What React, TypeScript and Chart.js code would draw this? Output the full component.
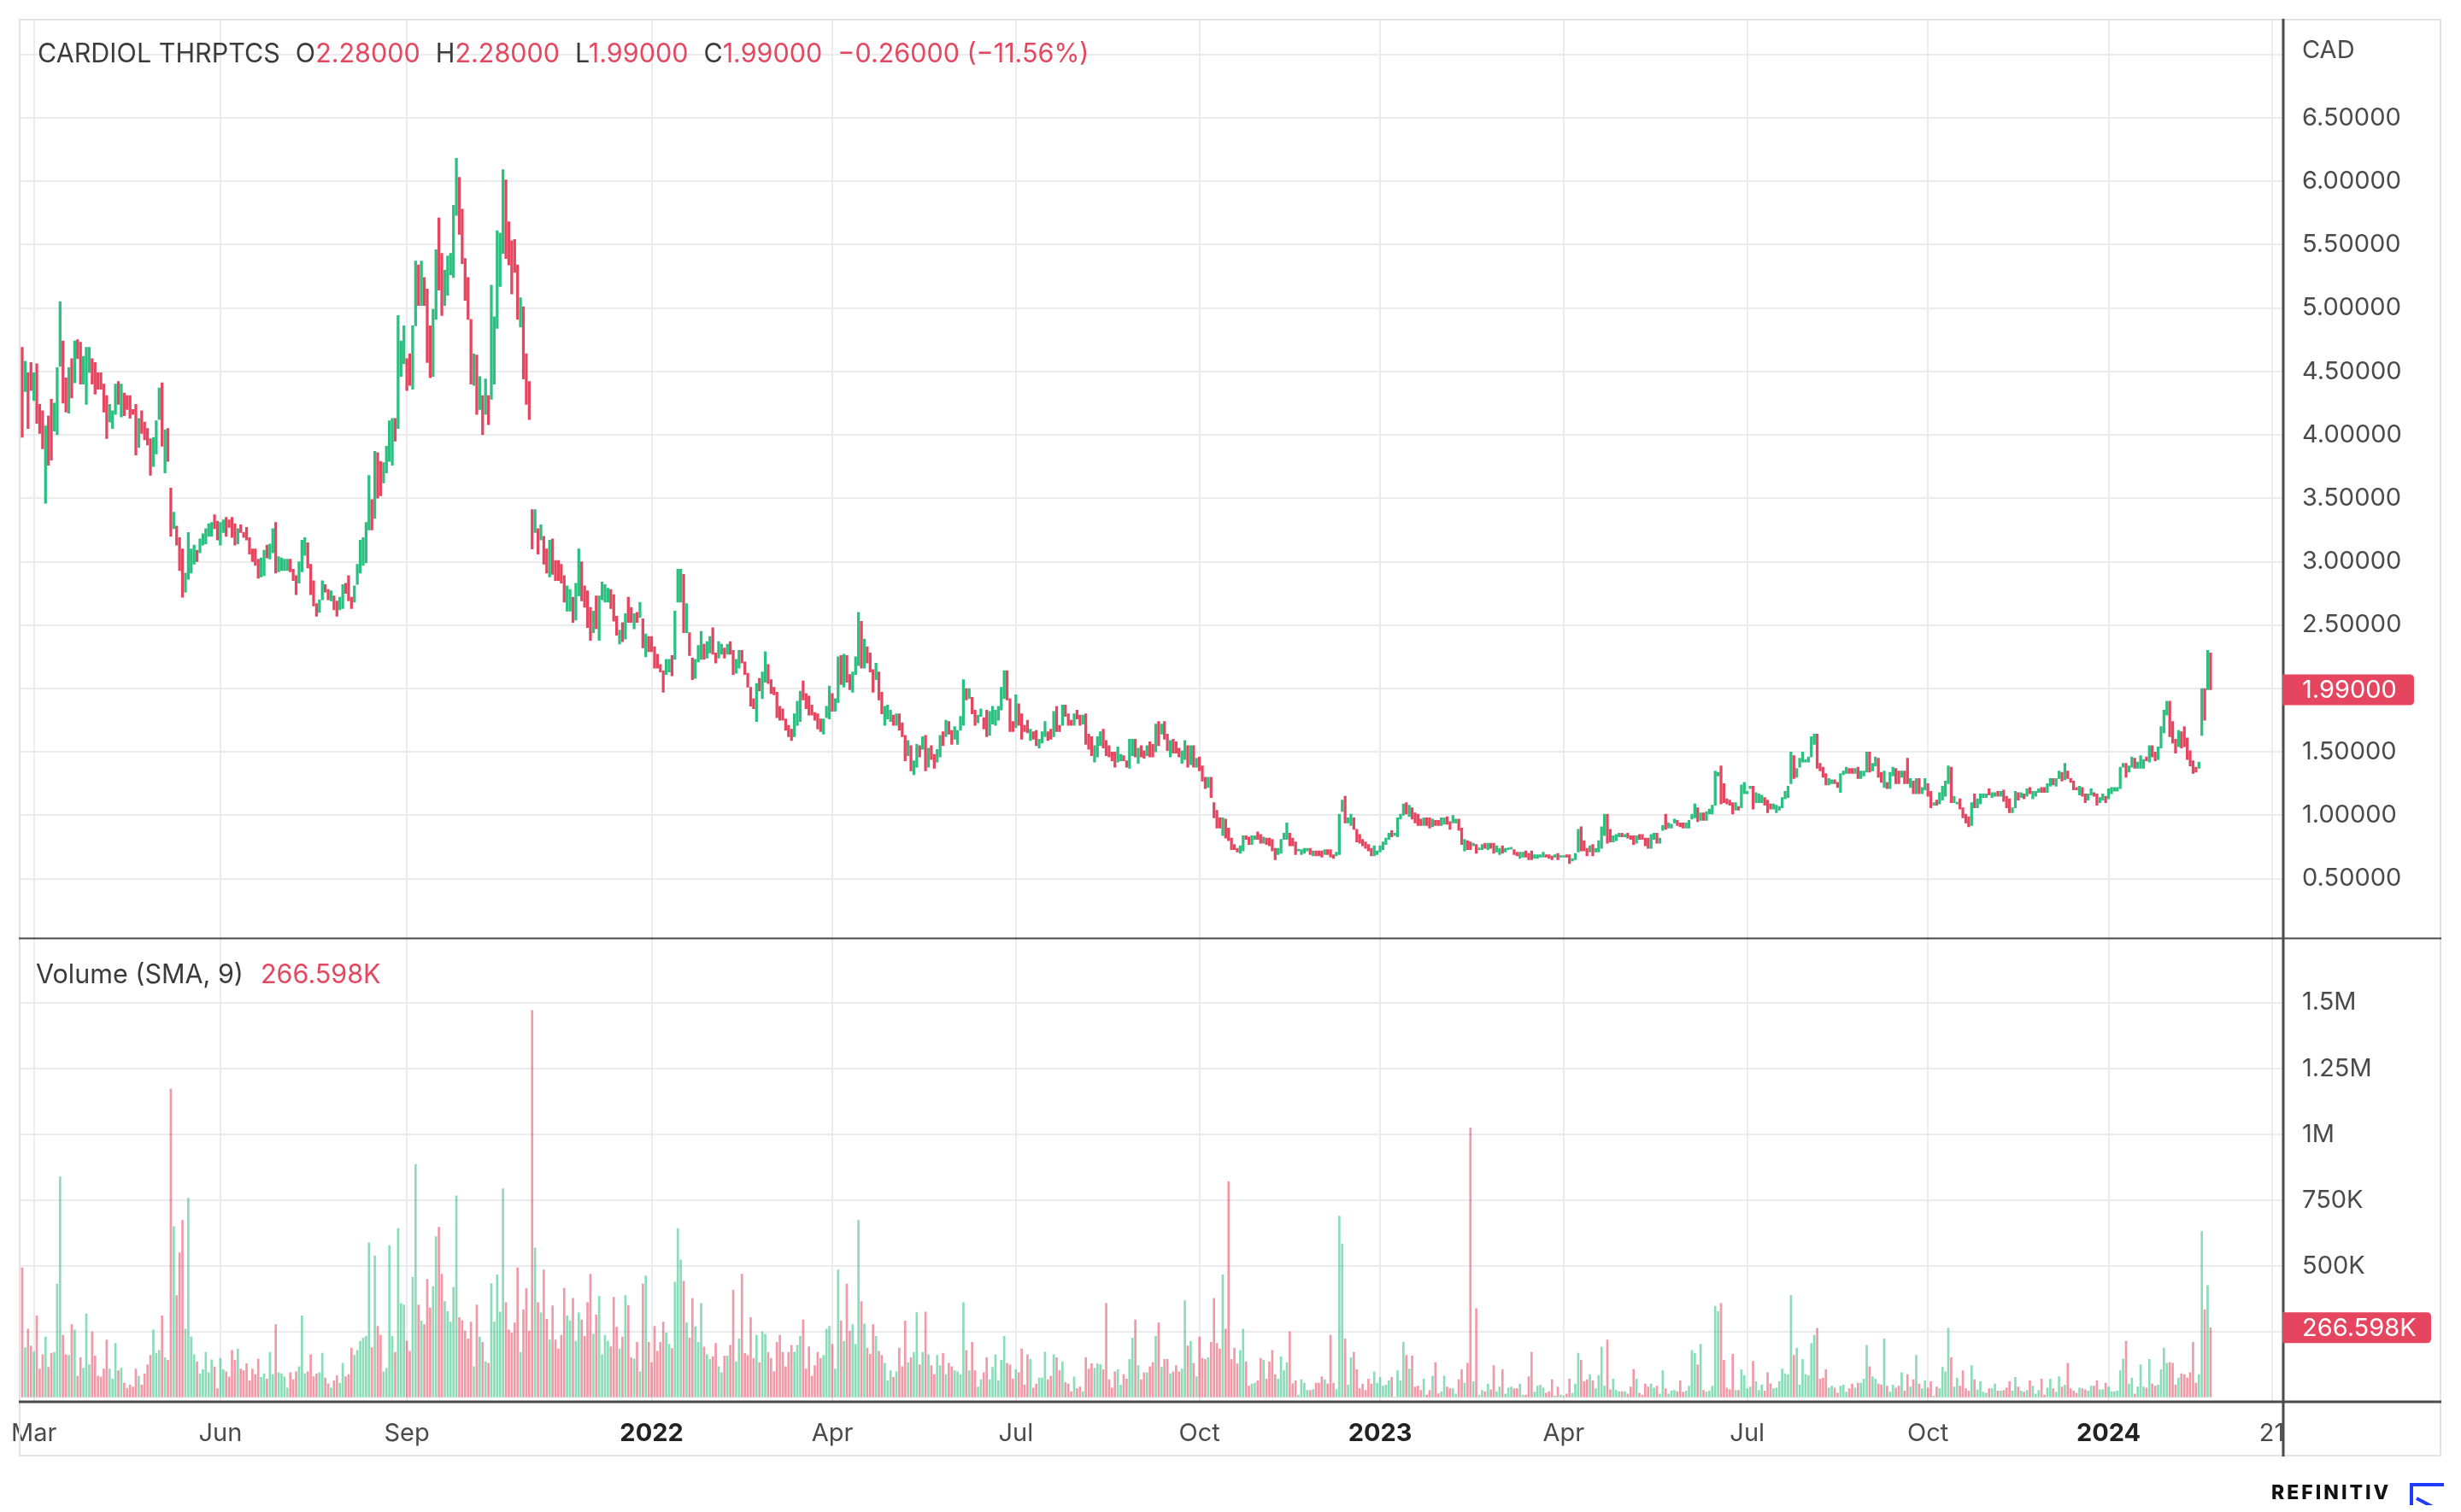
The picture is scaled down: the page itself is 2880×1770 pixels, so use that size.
import React, { useEffect, useRef } from 'react';
import { Chart, registerables } from 'chart.js';

Chart.register(...registerables);

// ---------- data (daily bars, index 0 = first visible bar, Feb 2021 .. Feb 2024) ----------
const opens = [
  4.69,4.34,4.49,4.57,4.27,4.56,4.24,4.19,3.46,4.15,
  4.28,4.03,4.00,4.54,4.74,4.45,4.17,4.60,4.41,4.75,
  4.73,4.40,4.24,4.49,4.60,4.57,4.49,4.49,4.40,4.31,
  4.10,4.05,4.16,4.42,4.14,4.33,4.31,4.31,4.20,4.24,
  3.90,4.19,4.10,4.05,3.97,3.75,3.85,4.12,4.41,3.70,
  4.05,3.58,3.26,3.28,3.19,3.10,2.76,2.86,2.91,2.98,
  3.09,3.07,3.13,3.14,3.20,3.20,3.37,3.32,3.13,3.23,
  3.35,3.33,3.35,3.30,3.14,3.29,3.23,3.27,3.19,3.10,
  3.10,3.02,2.88,2.89,3.13,3.02,3.07,3.31,2.92,2.93,
  2.93,2.93,3.02,2.94,2.89,2.83,2.92,3.05,3.15,2.98,
  2.85,2.67,2.60,2.70,2.82,2.78,2.69,2.73,2.69,2.62,
  2.63,2.83,2.89,2.72,2.68,2.82,2.91,2.97,2.99,3.25,
  3.49,3.34,3.86,3.79,3.62,3.70,3.79,3.76,4.13,4.05,
  4.46,4.56,4.60,4.64,4.36,4.86,5.34,5.02,5.24,5.15,
  4.86,4.46,4.91,5.71,5.43,5.02,5.10,5.26,5.24,5.73,
  6.03,5.78,5.39,5.24,4.91,4.39,4.63,4.20,4.31,4.16,
  4.31,4.28,4.40,4.84,5.17,5.43,6.01,5.68,5.53,5.54,
  5.34,4.85,5.01,4.64,4.42,3.41,3.23,3.26,3.17,3.20,
  3.10,2.88,3.18,3.01,3.01,2.98,2.89,2.61,2.61,2.72,
  2.54,2.73,3.00,2.81,2.77,2.64,2.44,2.73,2.38,2.70,
  2.68,2.68,2.78,2.74,2.57,2.35,2.52,2.39,2.72,2.64,
  2.47,2.60,2.56,2.55,2.25,2.41,2.41,2.33,2.27,2.19,
  2.14,2.11,2.13,2.26,2.23,2.68,2.68,2.90,2.44,2.44,
  2.24,2.08,2.21,2.23,2.35,2.24,2.28,2.48,2.28,2.24,
  2.27,2.32,2.27,2.37,2.30,2.12,2.16,2.30,2.21,2.12,
  2.01,1.92,1.74,2.08,1.92,2.05,2.19,2.07,2.01,1.97,
  1.86,1.84,1.76,1.71,1.68,1.62,1.71,1.74,2.06,1.96,
  1.94,1.87,1.81,1.80,1.76,1.64,1.77,1.76,1.96,1.82,
  1.89,2.26,2.01,2.26,2.11,1.97,2.11,2.18,2.53,2.16,
  2.33,2.28,2.15,2.07,2.13,1.97,1.71,1.76,1.74,1.79,
  1.71,1.80,1.73,1.63,1.47,1.55,1.32,1.38,1.55,1.52,
  1.63,1.38,1.55,1.48,1.42,1.46,1.66,1.62,1.74,1.67,
  1.60,1.56,1.67,1.71,2.00,1.92,1.93,1.83,1.73,1.78,
  1.77,1.83,1.63,1.72,1.71,1.75,1.83,1.92,2.14,1.92,
  1.74,1.69,1.88,1.80,1.71,1.75,1.59,1.66,1.67,1.53,
  1.57,1.62,1.66,1.68,1.62,1.86,1.71,1.71,1.87,1.80,
  1.75,1.71,1.83,1.79,1.72,1.80,1.64,1.62,1.42,1.46,
  1.55,1.68,1.59,1.55,1.50,1.50,1.42,1.43,1.47,1.43,
  1.37,1.47,1.60,1.41,1.55,1.51,1.47,1.58,1.56,1.50,
  1.74,1.64,1.74,1.64,1.46,1.60,1.58,1.53,1.41,1.44,
  1.55,1.40,1.55,1.38,1.46,1.39,1.30,1.22,1.30,1.10,
  1.04,0.98,0.84,0.97,0.90,0.82,0.77,0.74,0.70,0.72,
  0.84,0.83,0.77,0.81,0.87,0.85,0.78,0.82,0.82,0.81,
  0.74,0.69,0.70,0.81,0.81,0.86,0.82,0.79,0.72,0.69,
  0.70,0.72,0.74,0.68,0.72,0.72,0.72,0.69,0.73,0.73,
  0.69,0.68,0.69,1.03,1.15,0.94,0.92,0.98,0.89,0.85,
  0.81,0.79,0.77,0.74,0.68,0.69,0.71,0.73,0.77,0.81,
  0.88,0.84,0.83,0.97,1.00,1.10,0.99,1.06,1.02,1.01,
  0.97,0.92,0.98,0.98,0.91,0.96,0.96,0.92,0.93,0.99,
  0.95,0.94,0.94,0.97,0.90,0.72,0.80,0.79,0.76,0.77,
  0.73,0.73,0.78,0.73,0.78,0.78,0.71,0.69,0.76,0.71,
  0.73,0.735,0.73,0.71,0.66,0.67,0.72,0.70,0.72,0.66,
  0.66,0.67,0.67,0.69,0.69,0.68,0.67,0.70,0.67,0.67,
  0.69,0.69,0.64,0.65,0.71,0.91,0.80,0.74,0.71,0.77,
  0.71,0.71,0.74,0.84,1.01,0.89,0.79,0.80,0.83,0.86,
  0.83,0.86,0.84,0.84,0.78,0.85,0.85,0.82,0.82,0.74,
  0.81,0.86,0.78,0.88,1.01,0.90,0.90,0.94,0.96,0.94,
  0.94,0.90,0.90,0.97,0.98,1.06,0.96,1.02,0.96,1.01,
  1.01,1.08,1.31,1.39,1.25,1.13,1.12,1.10,1.04,1.07,
  1.06,1.17,1.17,1.21,1.23,1.10,1.10,1.10,1.14,1.12,
  1.09,1.05,1.02,1.04,1.06,1.13,1.14,1.25,1.47,1.30,
  1.38,1.42,1.42,1.42,1.46,1.56,1.64,1.41,1.38,1.33,
  1.24,1.25,1.28,1.26,1.18,1.32,1.33,1.37,1.37,1.33,
  1.38,1.29,1.31,1.34,1.50,1.35,1.39,1.45,1.34,1.22,
  1.26,1.21,1.31,1.37,1.35,1.30,1.35,1.45,1.22,1.27,
  1.17,1.29,1.17,1.20,1.25,1.19,1.08,1.12,1.09,1.12,
  1.15,1.25,1.38,1.10,1.09,1.13,1.06,1.01,0.99,0.92,
  1.17,1.06,1.09,1.14,1.14,1.21,1.14,1.15,1.19,1.15,
  1.20,1.15,1.13,1.02,1.06,1.18,1.14,1.17,1.15,1.22,
  1.13,1.15,1.18,1.22,1.22,1.18,1.23,1.29,1.23,1.29,
  1.34,1.28,1.35,1.29,1.27,1.22,1.16,1.22,1.17,1.12,
  1.16,1.18,1.17,1.10,1.12,1.15,1.13,1.17,1.19,1.19,
  1.21,1.38,1.41,1.34,1.38,1.45,1.37,1.37,1.37,1.46,
  1.42,1.55,1.50,1.44,1.53,1.65,1.79,1.90,1.74,1.60,
  1.54,1.66,1.70,1.61,1.51,1.43,1.38,1.37,1.63,2.00,
  1.99,2.28
];

const closes = [
  3.98,4.58,4.05,4.35,4.49,4.09,4.01,3.89,4.07,3.76,
  3.80,4.25,4.53,5.05,4.25,4.18,4.53,4.29,4.74,4.60,
  4.40,4.62,4.69,4.69,4.40,4.32,4.36,4.36,4.18,3.97,
  4.24,4.19,4.40,4.24,4.40,4.15,4.20,4.13,4.16,3.84,
  4.13,4.01,3.96,3.92,3.68,3.98,4.11,4.37,3.91,4.04,
  3.79,3.20,3.39,3.13,2.93,2.72,2.91,3.23,3.10,3.13,
  3.00,3.18,3.22,3.26,3.30,3.31,3.26,3.17,3.31,3.33,
  3.20,3.27,3.19,3.13,3.26,3.23,3.19,3.17,3.06,3.00,
  2.97,2.87,3.03,3.09,3.03,3.14,3.26,2.91,3.04,3.03,
  3.02,3.02,2.92,2.85,2.74,3.00,3.17,3.19,2.95,2.74,
  2.65,2.57,2.70,2.85,2.76,2.70,2.77,2.62,2.57,2.72,
  2.82,2.75,2.69,2.63,2.81,2.98,3.17,3.19,3.31,3.68,
  3.25,3.87,3.50,3.52,3.78,3.91,4.11,4.13,3.95,4.94,
  4.74,4.86,4.35,4.39,4.86,5.37,5.02,5.37,5.02,4.57,
  4.45,4.99,5.46,5.14,4.94,5.30,5.41,5.43,5.81,6.18,
  5.58,5.35,5.06,4.91,4.40,4.64,4.16,4.46,4.00,4.44,
  4.08,5.18,4.93,5.61,5.59,6.09,5.39,5.34,5.11,5.28,
  4.91,5.08,4.44,4.24,4.12,3.10,3.41,3.06,3.29,2.98,
  2.91,3.17,2.90,2.85,2.85,2.83,2.68,2.81,2.78,2.52,
  2.83,3.10,2.69,2.64,2.48,2.38,2.61,2.47,2.73,2.84,
  2.82,2.79,2.63,2.53,2.42,2.46,2.37,2.59,2.52,2.52,
  2.59,2.52,2.68,2.32,2.43,2.29,2.29,2.16,2.16,2.13,
  1.97,2.23,2.23,2.10,2.61,2.94,2.94,2.44,2.67,2.26,
  2.07,2.23,2.34,2.45,2.23,2.37,2.41,2.27,2.20,2.37,
  2.35,2.24,2.35,2.27,2.11,2.23,2.30,2.20,2.11,2.01,
  1.86,1.84,2.04,1.98,2.13,2.29,2.04,1.96,1.95,1.77,
  1.75,1.75,1.67,1.62,1.59,1.80,1.90,1.98,1.91,1.84,
  1.79,1.79,1.75,1.68,1.66,1.76,1.86,2.02,1.82,1.92,
  2.25,2.03,2.27,2.05,1.99,2.13,2.25,2.60,2.16,2.39,
  2.20,2.13,1.97,2.20,1.91,1.80,1.86,1.87,1.83,1.71,
  1.80,1.67,1.62,1.43,1.59,1.35,1.43,1.56,1.46,1.62,
  1.35,1.53,1.44,1.37,1.52,1.63,1.55,1.75,1.64,1.56,
  1.70,1.67,1.78,2.07,1.91,2.00,1.80,1.71,1.79,1.84,
  1.68,1.62,1.82,1.86,1.83,1.86,2.01,2.14,1.91,1.66,
  1.66,1.95,1.71,1.60,1.66,1.65,1.68,1.60,1.55,1.60,
  1.66,1.74,1.59,1.60,1.82,1.66,1.66,1.87,1.78,1.71,
  1.71,1.80,1.76,1.71,1.79,1.56,1.52,1.47,1.55,1.62,
  1.66,1.53,1.47,1.46,1.43,1.38,1.54,1.48,1.43,1.38,
  1.60,1.60,1.46,1.53,1.46,1.45,1.55,1.46,1.46,1.72,
  1.55,1.72,1.60,1.51,1.59,1.49,1.49,1.46,1.51,1.59,
  1.38,1.55,1.38,1.45,1.35,1.27,1.21,1.30,1.14,0.98,
  0.90,0.90,0.98,0.82,0.80,0.73,0.73,0.71,0.76,0.84,
  0.81,0.77,0.84,0.84,0.81,0.78,0.83,0.77,0.76,0.72,
  0.65,0.74,0.81,0.86,0.94,0.76,0.76,0.69,0.73,0.73,
  0.74,0.74,0.69,0.72,0.68,0.68,0.67,0.73,0.69,0.67,
  0.66,0.71,1.01,1.12,0.94,0.98,1.01,0.89,0.79,0.78,
  0.76,0.74,0.72,0.68,0.76,0.72,0.76,0.79,0.82,0.86,
  0.83,0.86,0.98,1.01,1.09,1.01,1.08,0.97,0.94,0.92,
  0.92,0.98,0.92,0.90,0.97,0.92,0.92,0.98,0.98,0.93,
  0.89,1.00,0.97,0.88,0.77,0.81,0.73,0.73,0.78,0.70,
  0.74,0.77,0.74,0.78,0.74,0.70,0.76,0.74,0.70,0.74,
  0.74,0.74,0.69,0.68,0.71,0.71,0.67,0.65,0.65,0.69,
  0.69,0.69,0.71,0.67,0.66,0.65,0.69,0.65,0.68,0.68,
  0.67,0.62,0.66,0.70,0.89,0.72,0.72,0.68,0.76,0.68,
  0.74,0.80,0.91,1.01,0.78,0.79,0.84,0.85,0.86,0.83,
  0.85,0.82,0.81,0.77,0.84,0.81,0.81,0.76,0.74,0.85,
  0.86,0.78,0.82,0.92,0.89,0.94,0.93,0.97,0.92,0.91,
  0.90,0.94,0.96,1.01,1.09,0.95,1.02,0.96,1.03,1.05,
  1.08,1.35,1.34,1.09,1.10,1.09,1.08,1.01,1.10,1.04,
  1.24,1.26,1.19,1.23,1.05,1.18,1.17,1.16,1.08,1.02,
  1.05,1.09,1.08,1.07,1.14,1.19,1.23,1.50,1.29,1.37,
  1.45,1.50,1.44,1.46,1.62,1.64,1.37,1.35,1.30,1.24,
  1.29,1.28,1.25,1.22,1.33,1.35,1.38,1.33,1.33,1.37,
  1.29,1.35,1.35,1.50,1.34,1.41,1.46,1.30,1.26,1.35,
  1.21,1.34,1.38,1.25,1.25,1.35,1.25,1.25,1.29,1.17,
  1.29,1.17,1.22,1.29,1.15,1.06,1.10,1.08,1.18,1.23,
  1.27,1.39,1.10,1.15,1.10,1.05,0.98,0.94,0.91,1.10,
  1.06,1.13,1.17,1.17,1.17,1.16,1.18,1.18,1.15,1.19,
  1.11,1.06,1.02,1.06,1.19,1.12,1.18,1.13,1.21,1.17,
  1.19,1.19,1.21,1.18,1.18,1.25,1.29,1.24,1.29,1.35,
  1.27,1.41,1.29,1.26,1.20,1.20,1.23,1.15,1.10,1.17,
  1.21,1.15,1.08,1.14,1.17,1.10,1.21,1.22,1.22,1.22,
  1.38,1.41,1.30,1.39,1.46,1.37,1.42,1.47,1.44,1.43,
  1.55,1.46,1.43,1.54,1.70,1.83,1.90,1.62,1.57,1.49,
  1.67,1.53,1.54,1.44,1.39,1.33,1.34,1.42,2.00,1.75,
  2.30,1.99
];

// volume in thousands of shares
const volumesK = [
  494,191,261,197,175,312,110,164,231,116,
  170,173,432,839,238,164,162,278,258,83,
  153,113,319,126,251,159,83,80,110,220,
  110,72,207,103,113,56,37,49,42,110,
  83,49,91,126,162,258,170,180,312,153,
  143,1172,650,389,551,674,261,758,231,164,
  137,91,107,173,96,145,118,35,150,107,
  99,80,180,143,186,110,103,130,65,110,
  89,148,78,92,72,173,89,278,96,92,
  80,38,96,69,99,119,312,92,99,164,
  81,92,96,170,76,54,38,65,85,56,
  132,81,89,189,162,180,215,227,234,589,
  191,539,272,238,99,112,578,234,173,643,
  359,353,216,177,458,886,353,292,278,450,
  342,423,612,648,470,366,328,288,420,767,
  305,294,254,224,288,119,353,231,211,137,
  132,434,288,467,326,794,362,258,247,285,
  494,173,335,416,254,1471,569,362,323,486,
  299,220,350,220,186,238,416,312,292,378,
  215,323,296,234,362,470,242,315,386,164,
  238,215,194,382,269,186,231,389,351,153,
  148,211,99,432,463,211,134,272,177,211,
  288,247,204,188,440,643,524,443,285,227,
  378,270,211,359,193,164,146,157,207,119,
  96,159,159,200,409,137,224,470,170,162,
  305,150,238,134,251,242,173,150,99,211,
  238,173,119,173,200,175,200,234,296,110,
  194,83,123,173,150,162,261,272,204,110,
  486,292,215,432,254,278,204,674,366,281,
  189,166,278,234,177,162,132,65,103,78,
  99,189,119,292,134,153,173,324,126,173,
  326,164,123,89,162,123,170,89,132,119,
  103,99,89,362,180,103,211,103,42,69,
  96,153,69,116,164,65,143,234,132,126,
  72,107,96,186,49,164,146,38,53,76,
  76,175,69,83,164,153,103,137,59,53,
  24,80,35,42,24,153,110,130,113,130,
  126,107,359,69,38,99,107,49,89,72,
  146,227,296,123,69,96,96,119,134,234,
  285,116,146,146,92,99,123,99,110,369,
  197,215,132,81,231,150,146,153,211,378,
  207,186,467,261,821,146,189,130,180,261,
  137,45,53,56,65,150,143,72,137,180,
  89,72,157,103,134,251,54,65,11,69,
  56,29,29,32,56,56,81,69,53,238,
  56,32,690,585,224,49,153,173,107,35,
  53,29,72,53,99,56,78,45,49,65,
  78,4,103,65,211,162,110,159,42,45,
  29,72,11,29,83,134,16,24,83,42,
  35,35,15,69,107,56,132,1025,62,339,
  11,29,24,53,31,123,24,42,107,15,
  38,42,35,35,53,11,11,81,173,22,
  45,49,38,18,24,69,8,42,11,8,
  15,72,18,53,170,143,62,69,89,65,
  35,85,193,45,220,31,72,29,24,24,
  24,15,42,108,72,18,11,53,42,53,
  38,45,15,103,35,15,26,29,24,65,
  22,26,45,180,170,126,204,29,22,26,
  45,348,328,359,143,38,31,166,29,29,
  107,85,35,42,139,62,29,49,26,96,
  54,35,38,62,110,92,89,389,162,189,
  49,146,89,85,207,238,265,72,76,107,
  38,45,38,18,45,49,22,35,53,38,
  56,56,72,200,119,81,72,53,49,224,
  45,22,49,38,45,96,26,89,42,69,
  162,53,35,65,38,62,8,42,35,116,
  99,265,153,42,76,45,103,35,26,123,
  69,31,62,22,18,35,35,53,26,26,
  29,38,62,26,78,42,26,22,29,65,
  45,15,29,72,11,38,72,35,22,81,
  42,49,132,35,26,18,38,35,31,26,
  45,45,65,31,31,56,42,24,24,26,
  103,148,215,53,76,15,42,126,42,38,
  146,53,45,49,107,189,132,135,132,49,
  76,92,89,76,96,211,56,89,632,335,
  427,266.598
];

// time axis: bar index of each labelled gridline and its text
const tickIndex = [4, 68, 132, 216, 278, 341, 404, 466, 529, 592, 654, 716, 772];
const tickLabels = ['Mar', 'Jun', 'Sep', '2022', 'Apr', 'Jul', 'Oct', '2023', 'Apr', 'Jul', 'Oct', '2024', '21'];
const yearLabels = ['2022', '2023', '2024'];
// value axes
const priceTicks = [0.5, 1, 1.5, 2, 2.5, 3, 3.5, 4, 4.5, 5, 5.5, 6, 6.5, 7];
const volumeTicksK = [0, 250, 500, 750, 1000, 1250, 1500];

const symbolName = 'CARDIOL THRPTCS';
const headerValues = { O: '2.28000', H: '2.28000', L: '1.99000', C: '1.99000' };
const changeText = '\u22120.26000 (\u221211.56%)';
const currency = 'CAD';
const lastPrice = 1.99;
const lastVolumeK = 266.598;
const volumeLegend = 'Volume (SMA, 9)';

// ---------- style / layout ----------
const W = 2864;
const H = 1754;
const PAD = { left: 14, top: 14, right: 15, bottom: 57 };
const AXIS_W = 186;
const TIME_H = 65;
const PRICE_W = 1076.5;
const VOL_W = 541.5;
const FONT = 'Inter, "Noto Sans", "DejaVu Sans", sans-serif';
const TICK_SIZE = 29;
const UP = '#2bbf80';
const DOWN = '#e6455f';
const UP_V = 'rgba(43,191,128,0.55)';
const DOWN_V = 'rgba(230,69,95,0.55)';
const GRID = '#ebebef';
const AXIS_TEXT = '#4a4a4a';
const RED_TEXT = '#e4475f';

function badge(ctx: any, x: number, y: number, w: number, text: string) {
  const h = 36;
  const r = 5;
  ctx.fillStyle = DOWN;
  ctx.beginPath();
  ctx.moveTo(x, y - h / 2);
  ctx.lineTo(x + w - r, y - h / 2);
  ctx.quadraticCurveTo(x + w, y - h / 2, x + w, y - h / 2 + r);
  ctx.lineTo(x + w, y + h / 2 - r);
  ctx.quadraticCurveTo(x + w, y + h / 2, x + w - r, y + h / 2);
  ctx.lineTo(x, y + h / 2);
  ctx.closePath();
  ctx.fill();
  ctx.fillStyle = '#ffffff';
  ctx.font = `${TICK_SIZE}px ${FONT}`;
  ctx.textAlign = 'left';
  ctx.textBaseline = 'middle';
  ctx.fillText(text, x + 23, y + 1);
}

const overlayPlugin = {
  id: 'overlay',
  afterDraw(chart: any) {
    const { ctx, chartArea } = chart;
    const py = chart.scales.y;
    const vy = chart.scales.yv;
    const L = PAD.left;
    const R = W - PAD.right;
    const T = PAD.top;
    const B = H - PAD.bottom;
    ctx.save();
    ctx.strokeStyle = '#e3e3e7';
    ctx.lineWidth = 2;
    ctx.strokeRect(L + 1, T + 1, R - L - 2, B - T - 2);

    ctx.strokeStyle = '#4a4a4a';
    ctx.lineWidth = 2;
    ctx.beginPath();
    ctx.moveTo(L, py.bottom);
    ctx.lineTo(R, py.bottom);
    ctx.stroke();
    ctx.lineWidth = 3;
    ctx.beginPath();
    ctx.moveTo(L, chartArea.bottom + 1);
    ctx.lineTo(R, chartArea.bottom + 1);
    ctx.stroke();
    ctx.beginPath();
    ctx.moveTo(chartArea.right + 1, T);
    ctx.lineTo(chartArea.right + 1, B);
    ctx.stroke();

    badge(ctx, chartArea.right, py.getPixelForValue(lastPrice), 154, lastPrice.toFixed(5));
    badge(ctx, chartArea.right, vy.getPixelForValue(lastVolumeK), 174, lastVolumeK.toFixed(3) + 'K');

    ctx.fillStyle = AXIS_TEXT;
    ctx.font = `${TICK_SIZE}px ${FONT}`;
    ctx.textAlign = 'left';
    ctx.textBaseline = 'middle';
    ctx.fillText(currency, chartArea.right + 23, 51);
    ctx.restore();
  },
};

function labelFor(v: number) {
  const i = tickIndex.indexOf(v);
  return i >= 0 ? tickLabels[i] : '';
}

function zeroPadding(s: any) {
  s.paddingTop = 0;
  s.paddingBottom = 0;
  s.paddingLeft = 0;
  s.paddingRight = 0;
}

export default function App() {
  const ref = useRef<HTMLCanvasElement>(null);

  useEffect(() => {
    if (!ref.current) return;
    const candleData = opens.map((o, i) => ({ x: i, y: [o, closes[i]] }));
    const candleColors = opens.map((o, i) => (closes[i] >= o ? UP : DOWN));
    const volData = volumesK.map((v, i) => ({ x: i, y: v }));
    const volColors = opens.map((o, i) => (closes[i] >= o ? UP_V : DOWN_V));

    const chart = new Chart(ref.current, {
      type: 'bar',
      data: {
        datasets: [
          {
            label: 'Volume',
            data: volData as any,
            backgroundColor: volColors,
            borderWidth: 0,
            barThickness: 2,
            grouped: false,
            xAxisID: 'x',
            yAxisID: 'yv',
          } as any,
          {
            label: 'Price',
            data: candleData as any,
            backgroundColor: candleColors,
            borderWidth: 0,
            barThickness: 2.6,
            minBarLength: 2,
            grouped: false,
            xAxisID: 'x',
            yAxisID: 'y',
          } as any,
        ],
      },
      options: {
        animation: false,
        responsive: false,
        maintainAspectRatio: false,
        devicePixelRatio: 1,
        events: [],
        layout: { padding: PAD },
        plugins: { legend: { display: false }, tooltip: { enabled: false } },
        scales: {
          x: {
            type: 'linear',
            min: -1.17,
            max: 775.66,
            offset: false,
            grid: { color: GRID, lineWidth: 2, drawTicks: false, offset: false },
            border: { display: false },
            afterBuildTicks: (s: any) => {
              s.ticks = tickIndex.map((v) => ({ value: v }));
            },
            afterFit: (s: any) => {
              s.height = TIME_H;
              zeroPadding(s);
            },
            ticks: {
              autoSkip: false,
              maxRotation: 0,
              minRotation: 0,
              padding: 21,
              callback: (v: any) => labelFor(Number(v)),
              font: (c: any) => ({
                family: FONT,
                size: TICK_SIZE,
                weight: yearLabels.includes(labelFor(c.tick ? c.tick.value : -1)) ? 'bold' : 'normal',
              }),
              color: (c: any) =>
                yearLabels.includes(labelFor(c.tick ? c.tick.value : -1)) ? '#222222' : AXIS_TEXT,
            },
          },
          y: {
            type: 'linear',
            position: 'right',
            stack: 'panes',
            stackWeight: PRICE_W,
            min: 0.03,
            max: 7.28,
            grid: { color: GRID, lineWidth: 2, drawTicks: false },
            border: { display: false },
            afterBuildTicks: (s: any) => {
              s.ticks = priceTicks.map((v) => ({ value: v }));
            },
            afterFit: (s: any) => {
              s.width = AXIS_W;
              zeroPadding(s);
            },
            ticks: {
              padding: 23,
              font: { family: FONT, size: TICK_SIZE },
              color: AXIS_TEXT,
              callback: (v: any) => (Number(v) >= 6.99 ? '' : Number(v).toFixed(5)),
            },
          },
          yv: {
            type: 'linear',
            position: 'right',
            stack: 'panes',
            stackWeight: VOL_W,
            min: -11.5,
            max: 1744,
            grid: {
              color: (c: any) => (c.tick && c.tick.value === 0 ? 'rgba(0,0,0,0)' : GRID),
              lineWidth: 2,
              drawTicks: false,
            },
            border: { display: false },
            afterBuildTicks: (s: any) => {
              s.ticks = volumeTicksK.map((v) => ({ value: v }));
            },
            afterFit: (s: any) => {
              s.width = AXIS_W;
              zeroPadding(s);
            },
            ticks: {
              padding: 23,
              font: { family: FONT, size: TICK_SIZE },
              color: AXIS_TEXT,
              callback: (v: any) => {
                const n = Number(v);
                if (n <= 0) return '';
                return n >= 1000 ? n / 1000 + 'M' : n + 'K';
              },
            },
          },
        },
      } as any,
      plugins: [overlayPlugin],
    });
    return () => chart.destroy();
  }, []);

  const gap = { marginLeft: 18 };
  return (
    <div style={{ position: 'relative', width: W, height: H, overflow: 'hidden', fontFamily: FONT, background: '#ffffff' }}>
      <canvas ref={ref} width={W} height={H} style={{ position: 'absolute', left: 0, top: 0, width: W, height: H }} />
      <div style={{ position: 'absolute', left: 36, top: 38, fontSize: 30.5, lineHeight: '31px', whiteSpace: 'nowrap', color: '#3b3b3b' }}>
        <span>{symbolName}</span>
        <span style={gap}>O</span><span style={{ color: RED_TEXT }}>{headerValues.O}</span>
        <span style={gap}>H</span><span style={{ color: RED_TEXT }}>{headerValues.H}</span>
        <span style={gap}>L</span><span style={{ color: RED_TEXT }}>{headerValues.L}</span>
        <span style={gap}>C</span><span style={{ color: RED_TEXT }}>{headerValues.C}</span>
        <span style={{ ...gap, color: RED_TEXT }}>{changeText}</span>
      </div>
      <div style={{ position: 'absolute', left: 34, top: 1116, fontSize: 30.5, lineHeight: '31px', whiteSpace: 'nowrap', color: '#3b3b3b' }}>
        <span>{volumeLegend}</span>
        <span style={{ marginLeft: 20, color: RED_TEXT }}>{lastVolumeK.toFixed(3)}K</span>
      </div>
      <div style={{ position: 'absolute', left: 2650, top: 1727, fontSize: 23, lineHeight: '24px', fontWeight: 800, letterSpacing: 3, color: '#111111', whiteSpace: 'nowrap' }}>
        REFINITIV
      </div>
      <div style={{ position: 'absolute', left: 2812, top: 1728, width: 40, height: 34, borderLeft: '4px solid #1f3bff', borderTop: '4px solid #1f3bff', boxSizing: 'border-box' }} />
      <div style={{ position: 'absolute', left: 2820, top: 1744, width: 30, height: 4, background: '#1f3bff', transform: 'rotate(28deg)', transformOrigin: 'left center' }} />
    </div>
  );
}
